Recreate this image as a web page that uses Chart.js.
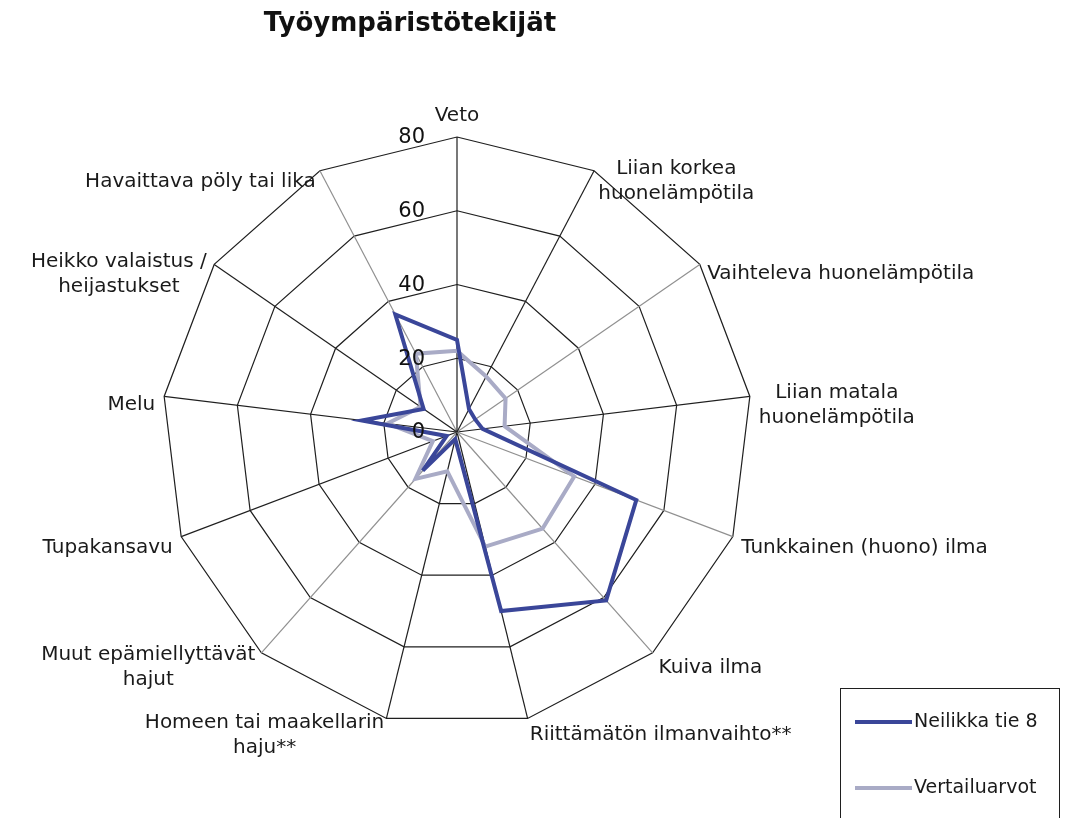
<!DOCTYPE html>
<html lang="fi">
<head>
<meta charset="utf-8">
<title>Työympäristötekijät</title>
<script src="https://cdn.jsdelivr.net/npm/chart.js@4.4.1/dist/chart.umd.min.js"></script>
<style>
  html, body { margin: 0; padding: 0; background: #fff; }
  #kuvio { position: relative; width: 1065px; height: 818px; }
</style>
</head>
<body>
<div id="kuvio"><canvas id="graafi"></canvas></div>
<script>
// ================================
// Data (luettu kuvasta)
// ================================
const otsikko = "Työympäristötekijät"

const tekijat = [
  "Veto",
  ["Liian korkea", "huonelämpötila"],
  "Vaihteleva huonelämpötila",
  ["Liian matala", "huonelämpötila"],
  "Tunkkainen (huono) ilma",
  "Kuiva ilma",
  "Riittämätön ilmanvaihto**",
  ["Homeen tai maakellarin", "haju**"],
  ["Muut epämiellyttävät", "hajut"],
  "Tupakansavu",
  "Melu",
  ["Heikko valaistus /", "heijastukset"],
  "Havaittava pöly tai lika",
]

const neilikka = [25, 7, 6, 7, 52, 61, 50, 2, 14, 3, 26, 11, 36]
const vertailuarvot = [22, 17, 16, 13, 34, 35, 32, 11, 17, 7, 19, 12, 24]

const sarjaNimet = ["Neilikka tie 8", "Vertailuarvot"]
const asteikko = [0, 20, 40, 60, 80]

// ================================
// Tyylit
// ================================
const fontti = "'DejaVu Sans', Verdana, sans-serif"
const sarjaVarit = ["#3a4699", "#a9abc6"]
const viivaVari = "#1f1f1f"
const harmaaVari = "#909090"
const harmaatSakarat = [2, 4, 5, 8, 12]

// ================================
// Tekstit: otsikko, asteikko, nimet, selite
// ================================
const tekstit = {
  id: "tekstit",
  afterDraw(chart) {
    const ctx = chart.ctx
    const r = chart.scales.r
    ctx.save()
    ctx.fillStyle = "#111"
    ctx.textBaseline = "middle"

    // Otsikko
    ctx.font = "bold 26px " + fontti
    ctx.textAlign = "center"
    ctx.fillText(otsikko, 410, 24)

    // Asteikon luvut
    ctx.font = "21px " + fontti
    ctx.textAlign = "right"
    asteikko.forEach((v) => {
      const d = r.getDistanceFromCenterForValue(v)
      ctx.fillText(String(v), r.xCenter - 32, r.yCenter - d + 1)
    })

    // Kategorioiden nimet
    ctx.font = "20px " + fontti
    ctx.fillStyle = "#1a1a1a"
    const rivi = 25
    chart.data.labels.forEach((nimi, i) => {
      const rivit = Array.isArray(nimi) ? nimi : [nimi]
      const kulma = r.getIndexAngle(i)
      const s = Math.sin(kulma)
      const c = Math.cos(kulma)
      const p = r.getPointPosition(i, r.drawingArea + 9)
      const leveys = Math.max(...rivit.map((t) => ctx.measureText(t).width))
      const korkeus = rivit.length * rivi

      let vasen = p.x - leveys / 2
      if (s > 0.2) vasen = p.x
      else if (s < -0.2) vasen = p.x - leveys

      // ylhäällä olevat nimet hieman alemmas, kuten alkuperäisessä
      let keski = p.y + 8 + 12 * Math.max(c, 0)
      if (Math.abs(s) <= 0.2) keski = c > 0 ? p.y - korkeus / 2 : p.y + korkeus / 2

      ctx.textAlign = "center"
      rivit.forEach((t, j) => {
        ctx.fillText(t, vasen + leveys / 2, keski - korkeus / 2 + rivi * (j + 0.5))
      })
    })

    // Selite
    ctx.strokeStyle = viivaVari
    ctx.lineWidth = 1
    ctx.strokeRect(840.5, 688.5, 219, 140)
    ctx.font = "19px " + fontti
    ctx.textAlign = "left"
    chart.data.datasets.forEach((ds, k) => {
      const y = 722 + k * 66
      ctx.strokeStyle = ds.borderColor
      ctx.lineWidth = 4
      ctx.beginPath()
      ctx.moveTo(855, y)
      ctx.lineTo(912, y)
      ctx.stroke()
      ctx.fillStyle = "#1a1a1a"
      ctx.fillText(ds.label, 914, y)
    })

    ctx.restore()
  },
}

// ================================
// Kaavio
// ================================
const kaavio = new Chart(document.getElementById("graafi"), {
  type: "radar",
  data: {
    labels: tekijat,
    datasets: [
      {
        label: sarjaNimet[0],
        data: neilikka,
        borderColor: sarjaVarit[0],
        backgroundColor: "transparent",
        borderWidth: 4,
        pointRadius: 0,
        fill: false,
      },
      {
        label: sarjaNimet[1],
        data: vertailuarvot,
        borderColor: sarjaVarit[1],
        backgroundColor: "transparent",
        borderWidth: 4,
        pointRadius: 0,
        fill: false,
      },
    ],
  },
  options: {
    responsive: true,
    maintainAspectRatio: false,
    animation: false,
    layout: { padding: { left: 162, right: 313, top: 137, bottom: 91 } },
    elements: { line: { tension: 0, borderJoinStyle: "miter" } },
    plugins: {
      legend: { display: false },
      tooltip: { enabled: false },
    },
    scales: {
      r: {
        min: 0,
        max: 80,
        ticks: { stepSize: 20, display: false },
        grid: { color: viivaVari, lineWidth: 1.2 },
        angleLines: {
          color: (c) => (harmaatSakarat.includes(c.index) ? harmaaVari : viivaVari),
          lineWidth: 1.2,
        },
        pointLabels: { display: false },
      },
    },
  },
  plugins: [tekstit],
})
</script>
</body>
</html>
